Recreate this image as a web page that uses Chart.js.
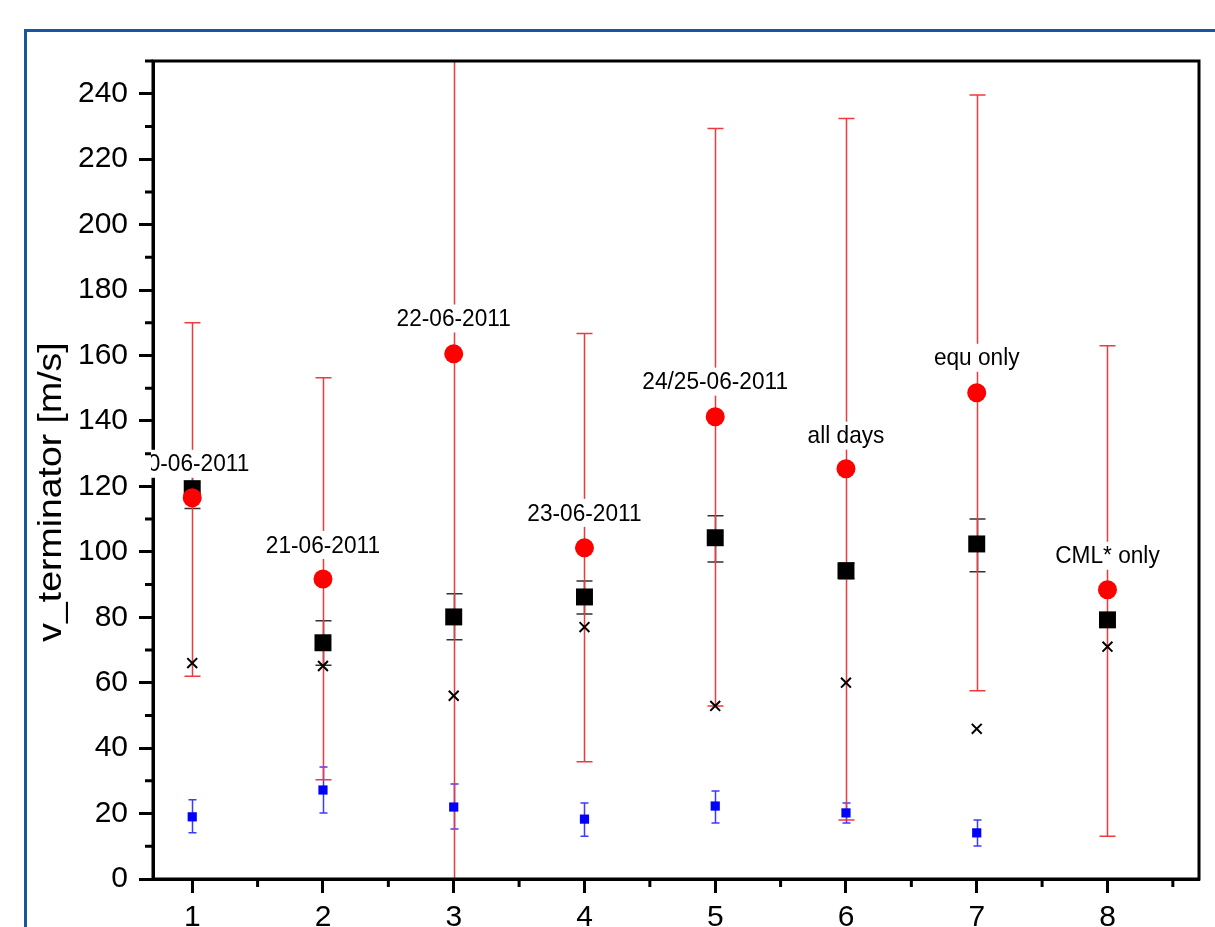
<!DOCTYPE html>
<html>
<head>
<meta charset="utf-8">
<script src="https://cdn.jsdelivr.net/npm/chart.js@4.4.1/dist/chart.umd.min.js"></script>
<style>
  html, body { margin: 0; padding: 0; background: #fff; overflow: hidden; }
  #frame {
    position: absolute; left: 24px; top: 29px;
    width: 2000px; height: 2000px;
    border: 3px solid #1b55a0;
  }
  #wrap { position: absolute; left: 0; top: 0; width: 1215px; height: 927px; }
</style>
</head>
<body>
<div id="frame"></div>
<div id="wrap"><canvas id="myChart" width="1215" height="927"></canvas></div>
<script>
// x positions (measurement sets) and tick labels
const categories = [1, 2, 3, 4, 5, 6, 7, 8];
const xTickValues = [1, 2, 3, 4, 5, 6, 7, 8];
const yTickValues = [0, 20, 40, 60, 80, 100, 120, 140, 160, 180, 200, 220, 240];

// annotation text above each group (y in data units)
const labelText = ["20-06-2011", "21-06-2011", "22-06-2011", "23-06-2011",
  "24/25-06-2011", "all days", "equ only", "CML* only"];
const labelY = [126.9, 102.1, 171.3, 111.9, 152.0, 135.5, 159.3, 98.8];

// red circles with wide error bars
const redMean = [116.5, 91.7, 160.5, 101.2, 141.3, 125.4, 148.6, 88.4];
const redLow = [62, 30.3, 0, 35.8, 52.9, 18, 57.5, 13.1];
const redHigh = [170, 153.2, 321, 166.7, 229.4, 232.4, 239.6, 163];

// black squares with error bars
const blackMean = [119.3, 72.2, 80.1, 86.2, 104.3, 94.2, 102.4, 79.2];
const blackLow = [113.2, 65.3, 73.1, 81, 96.9, 91.8, 93.9, 77.6];
const blackHigh = [125.4, 78.9, 87.2, 91.1, 111, 96.6, 110, 80.8];

// black crosses
const crossVal = [66, 65.1, 56, 77, 52.9, 60, 45.9, 71];

// small blue squares with error bars
const blueMean = [19, 27.2, 22, 18.3, 22.3, 20.2, 14.1, null];
const blueLow = [14.1, 20.2, 15.3, 13.1, 17.1, 17.1, 10.1, null];
const blueHigh = [24.2, 34.2, 29, 23.2, 26.9, 23.2, 18, null];

const FONT = '"Liberation Sans", Arial, sans-serif';

function pts(vals) {
  const out = [];
  for (let i = 0; i < categories.length; i++) {
    if (vals[i] !== null) out.push({ x: categories[i], y: vals[i] });
  }
  return out;
}

const errorSets = [
  { low: blueLow, high: blueHigh, color: "#3b3bff", cap: 8, width: 1.5 },
  { low: blackLow, high: blackHigh, color: "#333333", cap: 16, width: 1.5 },
  { low: redLow, high: redHigh, color: "#ec3a3f", cap: 16, width: 1.5 },
];

const errorBars = {
  id: "errorBars",
  beforeDatasetsDraw(chart) {
    const { ctx, chartArea, scales } = chart;
    ctx.save();
    ctx.beginPath();
    ctx.rect(chartArea.left, chartArea.top, chartArea.right - chartArea.left, chartArea.bottom - chartArea.top);
    ctx.clip();
    errorSets.forEach((s) => {
      ctx.strokeStyle = s.color;
      ctx.lineWidth = s.width;
      for (let i = 0; i < categories.length; i++) {
        if (s.low[i] === null) continue;
        const x = Math.round(scales.x.getPixelForValue(categories[i])) + 0.5;
        const y1 = scales.y.getPixelForValue(s.low[i]);
        const y2 = scales.y.getPixelForValue(s.high[i]);
        ctx.beginPath();
        ctx.moveTo(x, y1);
        ctx.lineTo(x, y2);
        ctx.moveTo(x - s.cap / 2, y1);
        ctx.lineTo(x + s.cap / 2, y1);
        ctx.moveTo(x - s.cap / 2, y2);
        ctx.lineTo(x + s.cap / 2, y2);
        ctx.stroke();
      }
    });
    ctx.restore();
  },
};

const frameAndText = {
  id: "frameAndText",
  afterDraw(chart) {
    const { ctx, chartArea, scales } = chart;
    const a = chartArea;
    ctx.save();
    // box around plot
    ctx.strokeStyle = "#000";
    ctx.lineWidth = 3;
    ctx.strokeRect(a.left, a.top, a.right - a.left, a.bottom - a.top);

    // minor ticks
    ctx.beginPath();
    for (let v = 10; v <= 250; v += 20) {
      const y = scales.y.getPixelForValue(v);
      ctx.moveTo(a.left, y);
      ctx.lineTo(a.left - 8, y);
    }
    for (let v = 1.5; v <= 8.5; v += 1) {
      const x = scales.x.getPixelForValue(v);
      ctx.moveTo(x, a.bottom);
      ctx.lineTo(x, a.bottom + 8);
    }
    ctx.stroke();

    // y title
    ctx.save();
    ctx.translate(61, 492);
    ctx.rotate(-Math.PI / 2);
    ctx.scale(1.1, 1);
    ctx.font = "34px " + FONT;
    ctx.fillStyle = "#000";
    ctx.textAlign = "center";
    ctx.textBaseline = "alphabetic";
    ctx.fillText("v_terminator [m/s]", 0, 0);
    ctx.restore();

    // annotation labels on white boxes
    ctx.beginPath();
    ctx.rect(a.left - 2, a.top, a.right - a.left + 2, a.bottom - a.top);
    ctx.clip();
    ctx.font = "22px " + FONT;
    ctx.textAlign = "center";
    ctx.textBaseline = "middle";
    for (let i = 0; i < categories.length; i++) {
      const x = scales.x.getPixelForValue(categories[i]);
      const y = scales.y.getPixelForValue(labelY[i]);
      const w = ctx.measureText(labelText[i]).width * 1.03 + 6;
      ctx.fillStyle = "#fff";
      ctx.fillRect(x - w / 2, y - 14, w, 28);
      ctx.save();
      ctx.translate(x, y + 1);
      ctx.scale(1.03, 1.1);
      ctx.fillStyle = "#000";
      ctx.fillText(labelText[i], 0, 0);
      ctx.restore();
    }
    ctx.restore();
  },
};

const axisCommon = {
  type: "linear",
  border: { display: true, color: "#000", width: 3 },
  grid: {
    drawOnChartArea: false,
    drawTicks: true,
    tickLength: 14,
    tickWidth: 3,
    tickColor: "#000",
  },
};

new Chart("myChart", {
  type: "scatter",
  data: {
    datasets: [
      {
        label: "red",
        data: pts(redMean),
        pointStyle: "circle",
        pointRadius: 9.5,
        backgroundColor: "#ff0000",
        borderColor: "#ff0000",
        borderWidth: 0,
      },
      {
        label: "black",
        data: pts(blackMean),
        pointStyle: "rect",
        pointRadius: 12,
        backgroundColor: "#000",
        borderColor: "#000",
        borderWidth: 0,
      },
      {
        label: "cross",
        data: pts(crossVal),
        pointStyle: "crossRot",
        pointRadius: 7,
        borderColor: "#000",
        borderWidth: 2,
      },
      {
        label: "blue",
        data: pts(blueMean),
        pointStyle: "rect",
        pointRadius: 6.5,
        backgroundColor: "#0000ff",
        borderColor: "#0000ff",
        borderWidth: 0,
      },
    ],
  },
  options: {
    responsive: false,
    animation: false,
    layout: { padding: { top: 61, right: 16, left: 0, bottom: 0 } },
    plugins: { legend: { display: false }, tooltip: { enabled: false } },
    scales: {
      x: {
        ...axisCommon,
        position: "bottom",
        min: 0.7,
        max: 8.7,
        afterBuildTicks: (scale) => {
          scale.ticks = xTickValues.map((v) => ({ value: v }));
        },
        afterFit: (scale) => { scale.height = 48; },
        ticks: { color: "#000", font: { family: FONT, size: 30 }, padding: 7 },
      },
      y: {
        ...axisCommon,
        position: "left",
        min: 0,
        max: 250,
        afterBuildTicks: (scale) => {
          scale.ticks = yTickValues.map((v) => ({ value: v }));
        },
        afterFit: (scale) => { scale.width = 153; },
        ticks: { color: "#000", font: { family: FONT, size: 30 }, padding: 11 },
      },
    },
  },
  plugins: [errorBars, frameAndText],
});
</script>
</body>
</html>
